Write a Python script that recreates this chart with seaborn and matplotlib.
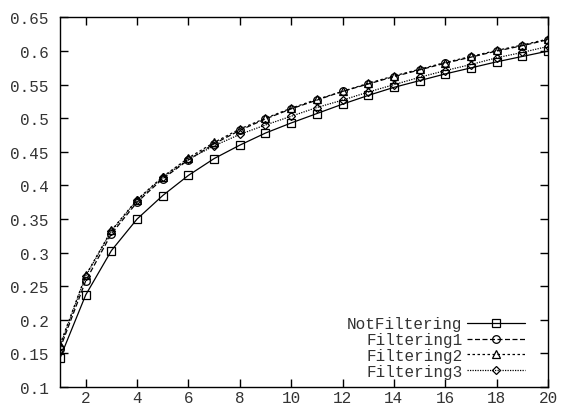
import numpy as np
import pandas as pd
import matplotlib
matplotlib.use("Agg")
import matplotlib.pyplot as plt
import seaborn as sns

# values
steps = list(range(1, 21))
not_filtering = [0.143, 0.237, 0.303, 0.350, 0.385, 0.415, 0.440, 0.460, 0.478, 0.493,
                 0.507, 0.521, 0.534, 0.546, 0.556, 0.566, 0.575, 0.584, 0.592, 0.600]
filtering1 = [0.157, 0.258, 0.328, 0.375, 0.410, 0.438, 0.462, 0.482, 0.499, 0.514,
              0.527, 0.540, 0.551, 0.562, 0.572, 0.582, 0.591, 0.600, 0.608, 0.617]
filtering2 = [0.163, 0.266, 0.333, 0.379, 0.413, 0.441, 0.464, 0.484, 0.500, 0.515,
              0.528, 0.540, 0.552, 0.563, 0.573, 0.583, 0.592, 0.601, 0.609, 0.618]
filtering3 = [0.160, 0.265, 0.332, 0.378, 0.412, 0.439, 0.459, 0.476, 0.490, 0.503,
              0.516, 0.527, 0.539, 0.550, 0.561, 0.571, 0.580, 0.590, 0.598, 0.607]

series_names = ["NotFiltering", "Filtering1", "Filtering2", "Filtering3"]
x_ticks = list(range(2, 21, 2))
y_ticks = [0.1, 0.15, 0.2, 0.25, 0.3, 0.35, 0.4, 0.45, 0.5, 0.55, 0.6, 0.65]

df = pd.DataFrame({
    "step": steps * 4,
    "value": not_filtering + filtering1 + filtering2 + filtering3,
    "series": np.repeat(series_names, len(steps)),
})

sns.set_style("ticks")
plt.rcParams["font.family"] = ["Liberation Mono", "DejaVu Sans Mono"]

fig = plt.figure(figsize=(5.63, 4.10), dpi=100)
ax = fig.add_axes([0.1066, 0.0537, 0.8668, 0.9012])

markers = {"NotFiltering": "s", "Filtering1": "o", "Filtering2": "^", "Filtering3": "D"}
styles = {"NotFiltering": "-", "Filtering1": (0, (4, 2)), "Filtering2": (0, (2, 2)),
          "Filtering3": (0, (1, 1))}
msizes = {"NotFiltering": 6, "Filtering1": 5.5, "Filtering2": 5.5, "Filtering3": 4.5}

for name in series_names:
    sub = df[df["series"] == name]
    sns.lineplot(data=sub, x="step", y="value", ax=ax, color="black", linewidth=0.9,
                 linestyle=styles[name], marker=markers[name], markersize=msizes[name],
                 markerfacecolor="none", markeredgecolor="black", markeredgewidth=0.9,
                 label=name)

ax.set_xlim(1, 20)
ax.set_ylim(0.1, 0.65)
ax.set_xticks(x_ticks)
ax.set_yticks(y_ticks)
ax.set_yticklabels([f"{v:g}" for v in y_ticks])
ax.set_xlabel("")
ax.set_ylabel("")
for s in ax.spines.values():
    s.set_visible(True)
    s.set_linewidth(1.0)
    s.set_color("black")
ax.tick_params(direction="in", length=6, width=1.0, top=True, right=True,
               labelsize=11.5, labelcolor="#333333", color="black")
ax.tick_params(axis="y", pad=8)
ax.tick_params(axis="x", pad=2)

leg = ax.legend(loc="lower right", frameon=False, markerfirst=False, fontsize=11.5,
                handlelength=3.6, handletextpad=0.3, labelspacing=0.05,
                bbox_to_anchor=(0.965, 0.005), borderaxespad=0.0)
for t in leg.get_texts():
    t.set_color("#333333")

fig.savefig("out.png", dpi=100)
